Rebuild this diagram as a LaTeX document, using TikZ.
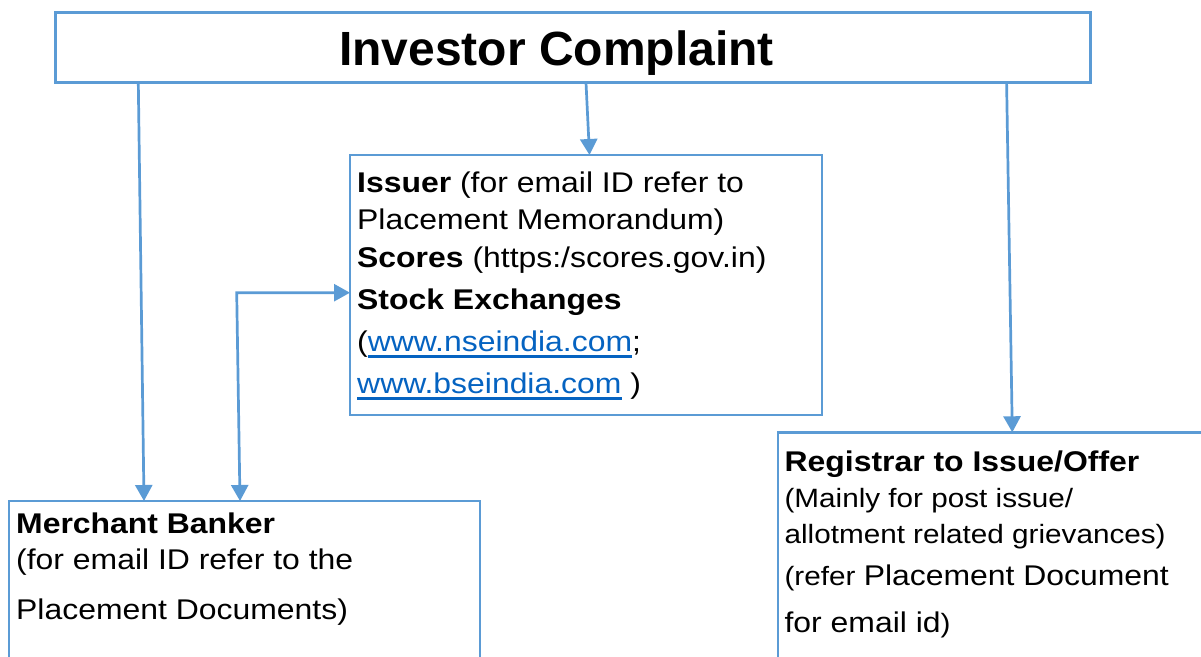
\documentclass[tikz,border=0pt]{standalone}
\usepackage{fontspec}
\setmainfont{Liberation Sans}[FakeStretch=1.12]
\newfontfamily\titlefont{Liberation Sans}
\usetikzlibrary{arrows.meta,positioning}
\definecolor{boxblue}{HTML}{5B9BD5}
\definecolor{linkblue}{HTML}{0563C1}
\newcommand{\smalltext}{\fontsize{26.5}{36}\selectfont}
\newcommand{\weblink}[1]{\textcolor{linkblue}{\setbox0\hbox{#1}\rlap{\rule[-6.5pt]{\wd0}{3pt}}\box0}}

\begin{document}
\begin{tikzpicture}[x=1pt,y=-1pt,>={Triangle[length=16pt,width=17pt]}]
	\tikzstyle{box}
	  =[draw=boxblue, line width=2.6pt, rectangle, inner sep=0pt, outer sep=0pt, anchor=north west]
	\tikzstyle{txt}
	  =[inner sep=0pt, align=left, font=\fontsize{28.5}{36}\selectfont]
	\tikzstyle{conn}
	  =[draw=boxblue, line width=2.7pt]

	\useasboundingbox (0,0) rectangle (1201,656);
	\clip (0,0) rectangle (1201,656);

	\node[box,line width=3pt,minimum width=1035pt,minimum height=70.4pt] (complaint)
	  at (55,12.3) {};
	\node[inner sep=0pt,font=\titlefont\bfseries\fontsize{48}{56}\selectfont] (title)
	  [below right=18.3pt and 284pt of complaint.north west] {Investor Complaint};

	\node[box,minimum width=472pt,minimum height=260pt] (issuer)
	  at (350,155) {};
	\node[txt,font=\fontsize{28.5}{36.6}\selectfont] (issuer_text)
	  [below right=17pt and 7pt of issuer.north west]
	  {{\bfseries Issuer} (for email ID refer to\\
	   Placement Memorandum)\\[1.4pt]
	   {\bfseries Scores} (https:/scores.gov.in)\\[5.4pt]
	   {\bfseries Stock Exchanges}\\[5.8pt]
	   (\weblink{www.nseindia.com};\\[5pt]
	   \weblink{www.bseindia.com} )};

	\node[box,minimum width=471pt,minimum height=200pt] (banker)
	  at (9,501) {};
	\node[txt] (banker_text)
	  [below right=11.9pt and 7pt of banker.north west]
	  {{\bfseries Merchant Banker}\\
	   (for email ID refer to the\\[14pt]
	   Placement Documents)};

	\node[box,minimum width=500pt,minimum height=300pt] (registrar)
	  at (778,432.3) {};
	\node[txt] (registrar_text)
	  [below right=18pt and 6.4pt of registrar.north west]
	  {{\bfseries Registrar to Issue/Offer}\\[0.6pt]
	   {\smalltext (Mainly for post issue/}\\
	   {\smalltext allotment related grievances)}\\[5.7pt]
	   {\smalltext (refer }Placement Document\\[10.7pt]
	   for email id{\smalltext )}};

	\coordinate (bend) at (236.7,292.7);

	\draw[conn,->] ([xshift=83.3pt]complaint.south west)--([xshift=135pt]banker.north west);
	\draw[conn,->] ([xshift=531pt]complaint.south west)--([xshift=239.5pt]issuer.north west);
	\draw[conn,->] ([xshift=951.6pt]complaint.south west)--([xshift=234.3pt]registrar.north west);
	\draw[conn,<->] ([xshift=231pt]banker.north west)--(bend)--([yshift=-137.7pt]issuer.north west);
\end{tikzpicture}
\end{document}
